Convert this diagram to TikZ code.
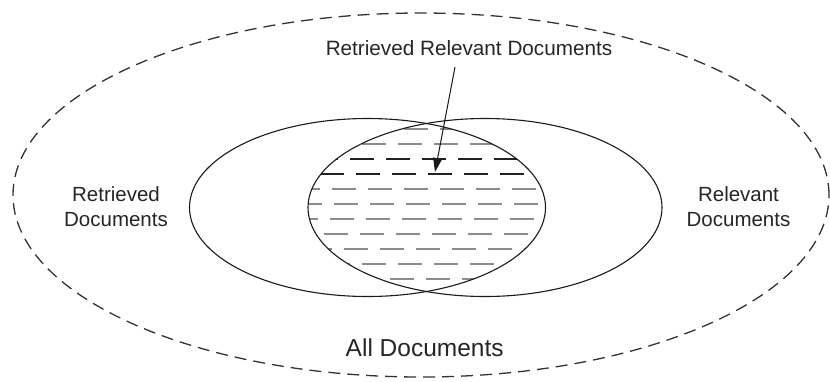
\documentclass[tikz,border=0pt]{standalone}
\usepackage{fontspec}
\setmainfont{Liberation Sans}
\usetikzlibrary{arrows.meta}
\definecolor{txt}{HTML}{262626}
\definecolor{hatchgray}{HTML}{8C8C8C}
\definecolor{hatchdark}{HTML}{222222}
\definecolor{outline}{HTML}{1A1A1A}
\definecolor{outerdash}{HTML}{333333}
\begin{document}
\begin{tikzpicture}[x=1pt,y=-1pt,
  lbl/.style={font=\fontsize{20.5}{25}\selectfont, text=txt, inner sep=0pt, align=center},
  setline/.style={draw=outline, line width=1.1pt},
  hatch/.style={dash pattern=on 24pt off 12pt}]
\useasboundingbox (0,0) rectangle (830,381);
\fill[white] (0,0) rectangle (830,381);
% outer dashed ellipse
\draw[draw=outerdash, line width=1.3pt, dash pattern=on 12pt off 7pt] (421,195) ellipse [x radius=408pt, y radius=182pt];
% hatching of intersection
\begin{scope}
  \clip (367.5,207.5) ellipse [x radius=178pt, y radius=89pt];
  \clip (485,207.5) ellipse [x radius=177pt, y radius=89pt];
  \foreach \yy/\cc/\lw/\ph in {129/hatchgray/2/4, 144/hatchgray/2/10, 159/hatchdark/1.2/22, 174/hatchdark/1.2/16,
     189/hatchgray/2/4, 204/hatchgray/2/2, 219/hatchgray/2/6, 234/hatchgray/2/12, 249/hatchgray/2/28,
     264/hatchgray/2/10, 279/hatchgray/2/18}
    \draw[hatch, draw=\cc, line width=\lw pt, dash phase=\ph pt] (300,\yy) -- (560,\yy);
\end{scope}
% set ellipses
\draw[setline] (367.5,207.5) ellipse [x radius=178pt, y radius=89pt];
\draw[setline] (485,207.5) ellipse [x radius=177pt, y radius=89pt];
% labels
\node[lbl, font=\fontsize{20.7}{25}\selectfont, anchor=base] (rr) at (469,55) {Retrieved Relevant Documents};
\node[lbl] (ret) at (116,207) {Retrieved\\Documents};
\node[lbl] (rel) at (738.5,207) {Relevant\\Documents};
\node[lbl, font=\fontsize{24.5}{29}\selectfont, anchor=base] (all) at (424.7,356.7) {All Documents};
% arrow
\coordinate (astart) at (455,67);
\coordinate (atip) at (435,172);
\draw[line width=1pt, draw=outline, -{Triangle[length=14pt,width=9pt]}] (astart) -- (atip);
\end{tikzpicture}
\end{document}
